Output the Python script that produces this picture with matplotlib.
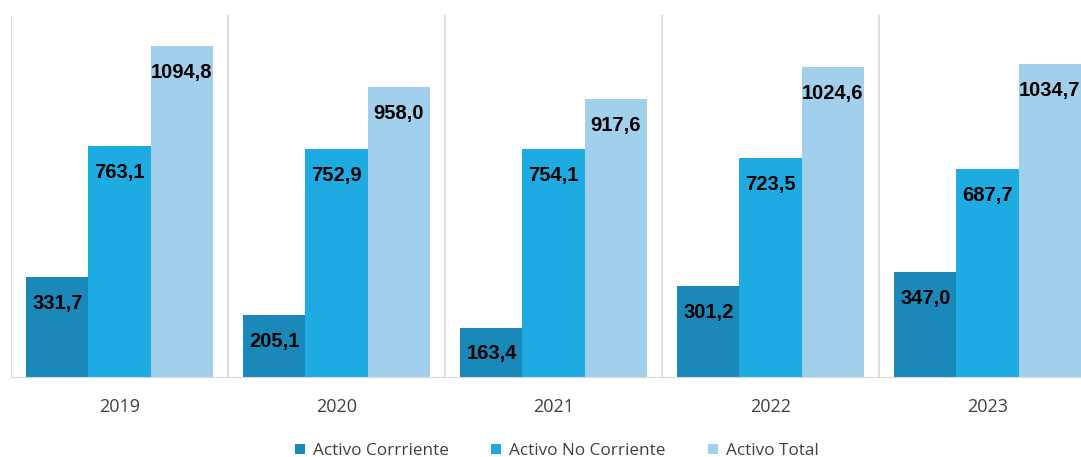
import numpy as np
import matplotlib.pyplot as plt

years = ['2019', '2020', '2021', '2022', '2023']
activo_corriente = [331.7, 205.1, 163.4, 301.2, 347.0]
activo_no_corriente = [763.1, 752.9, 754.1, 723.5, 687.7]
activo_total = [1094.8, 958.0, 917.6, 1024.6, 1034.7]

series = [
    ('Activo Corrriente', activo_corriente, '#1A88B9'),
    ('Activo No Corriente', activo_no_corriente, '#1EABE2'),
    ('Activo Total', activo_total, '#A2CFEC'),
]

fig = plt.figure(figsize=(10.81, 4.57), dpi=100)
ax = fig.add_axes([11 / 1081, 1 - 377 / 457, 1 - 11 / 1081, (377 - 15) / 457])

x = np.arange(len(years))
width = 0.286

for i, (name, vals, color) in enumerate(series):
    pos = x + (i - 1) * width
    ax.bar(pos, vals, width, color=color, label=name, zorder=2)
    for xp, v in zip(pos, vals):
        ax.annotate(f'{v:.1f}'.replace('.', ','), (xp, v), xytext=(0, -19),
                    textcoords='offset points', ha='center', va='center',
                    fontsize=14.5, fontweight='bold', family='Liberation Sans', color='black')

ax.set_xlim(-0.5, -0.5 + (1081 - 11) / 217)
ax.set_ylim(0, 1197)

# vertical separators between the year groups
for b in np.arange(-0.5, len(years), 1.0):
    ax.axvline(b, color='#D9D9D9', lw=1.2, zorder=1)

ax.set_xticks(x)
ax.set_xticklabels(years, fontsize=13, color='#404040', family='Open Sans')
ax.tick_params(axis='x', length=0, pad=15)
ax.set_yticks([])
for s in ['top', 'right', 'left']:
    ax.spines[s].set_visible(False)
ax.spines['bottom'].set_color('#D9D9D9')

fig.legend(loc='center', bbox_to_anchor=(0.515, 0.013), ncol=3, frameon=False,
           handlelength=0.6, handleheight=0.6, columnspacing=2.5, handletextpad=0.45,
           prop={'family': 'Open Sans', 'size': 12.3}, labelcolor='#404040')

fig.savefig('out.png', dpi=100)
